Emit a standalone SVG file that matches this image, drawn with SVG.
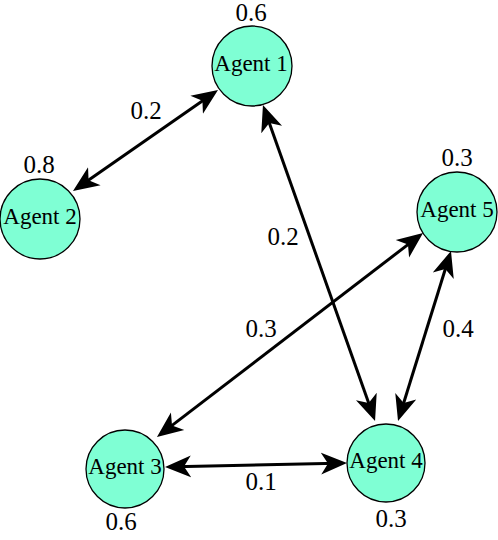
<svg xmlns="http://www.w3.org/2000/svg" width="498" height="540" viewBox="0 0 498 540">
<style>
.node circle{fill:#7fffd4;stroke:#000;stroke-width:1.3}
.node text{font-family:"Liberation Serif","Times New Roman",serif;font-size:23px;text-anchor:middle;fill:#000}
text.val{font-family:"Liberation Serif","Times New Roman",serif;font-size:25px;text-anchor:middle;fill:#000}
.edges line{stroke:#000;stroke-width:3;marker-start:url(#arr);marker-end:url(#arr)}
</style>
<defs>
<marker id="arr" markerUnits="userSpaceOnUse" markerWidth="30" markerHeight="26" viewBox="0 -13 30 26" refX="16" refY="0" orient="auto-start-reverse">
<path d="M0,-11 L26,0 L0,11 L7,0 Z" fill="#000"/>
</marker>
</defs>
<rect width="498" height="540" fill="#fff"/>
<g id="node-agent1" class="node"><circle cx="252" cy="66" r="40"/><text x="251" y="71">Agent 1</text><text class="val" x="251" y="21">0.6</text></g>
<g id="node-agent2" class="node"><circle cx="40" cy="219" r="40"/><text x="40" y="224">Agent 2</text><text class="val" x="39" y="173">0.8</text></g>
<g id="node-agent5" class="node"><circle cx="457" cy="212" r="40"/><text x="457" y="217">Agent 5</text><text class="val" x="457" y="166">0.3</text></g>
<g id="node-agent3" class="node"><circle cx="125" cy="469" r="39"/><text x="125" y="474">Agent 3</text><text class="val" x="121" y="530">0.6</text></g>
<g id="node-agent4" class="node"><circle cx="386" cy="463" r="39"/><text x="386" y="468">Agent 4</text><text class="val" x="391" y="527">0.3</text></g>
<g id="edges" class="edges">
<line x1="209.8" y1="95.7" x2="81.2" y2="185.3"/>
<line x1="266.3" y1="114.4" x2="371.7" y2="411.6"/>
<line x1="448" y1="260.5" x2="401" y2="411.5"/>
<line x1="415.1" y1="239.1" x2="164.9" y2="430.9"/>
<line x1="175" y1="466.8" x2="337" y2="463.2"/>
<text class="val" x="146" y="119">0.2</text>
<text class="val" x="283" y="245">0.2</text>
<text class="val" x="261" y="337">0.3</text>
<text class="val" x="458" y="337">0.4</text>
<text class="val" x="261" y="490">0.1</text>
</g>
</svg>
